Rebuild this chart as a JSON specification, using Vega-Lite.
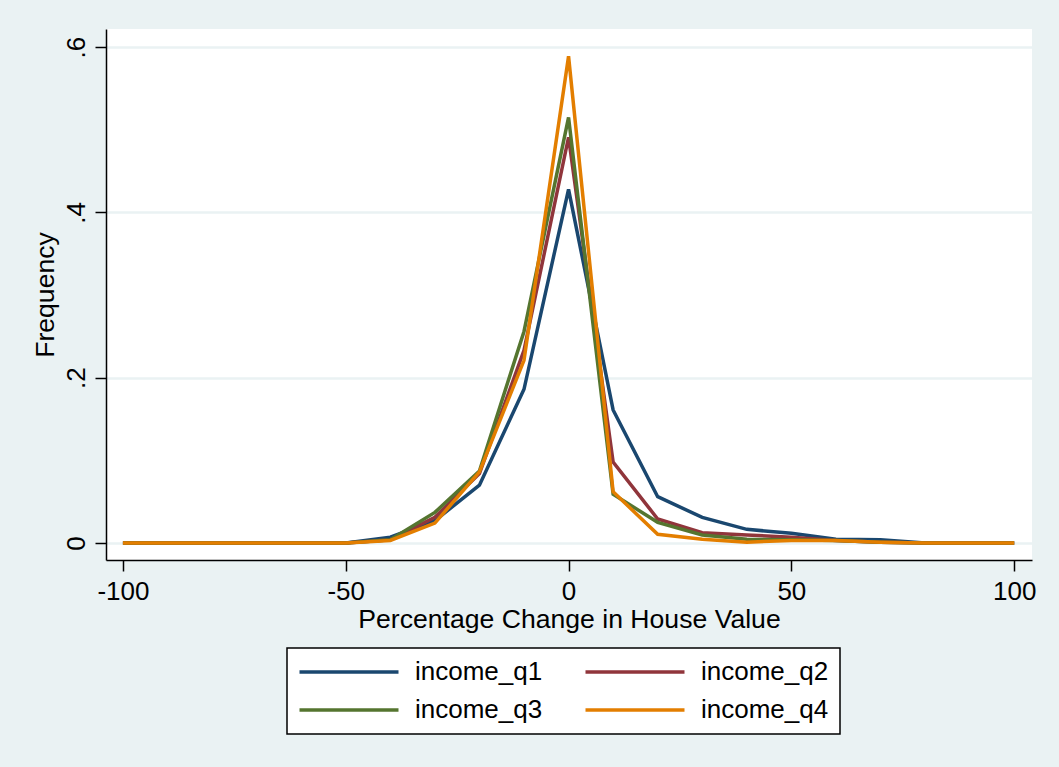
{
  "$schema": "https://vega.github.io/schema/vega-lite/v6.json",
  "width": 926,
  "height": 531,
  "autosize": {"type": "none"},
  "padding": {"left": 106, "top": 29, "right": 27, "bottom": 207},
  "background": "#EAF2F3",
  "config": {
    "view": {"fill": "white", "stroke": null},
    "font": "Liberation Sans"
  },
  "data": {
    "values": [
      {"x": -100, "series": "income_q1", "freq": 0}, {"x": -100, "series": "income_q2", "freq": 0}, {"x": -100, "series": "income_q3", "freq": 0}, {"x": -100, "series": "income_q4", "freq": 0},
      {"x": -90, "series": "income_q1", "freq": 0}, {"x": -90, "series": "income_q2", "freq": 0}, {"x": -90, "series": "income_q3", "freq": 0}, {"x": -90, "series": "income_q4", "freq": 0},
      {"x": -80, "series": "income_q1", "freq": 0}, {"x": -80, "series": "income_q2", "freq": 0}, {"x": -80, "series": "income_q3", "freq": 0}, {"x": -80, "series": "income_q4", "freq": 0},
      {"x": -70, "series": "income_q1", "freq": 0}, {"x": -70, "series": "income_q2", "freq": 0}, {"x": -70, "series": "income_q3", "freq": 0}, {"x": -70, "series": "income_q4", "freq": 0},
      {"x": -60, "series": "income_q1", "freq": 0}, {"x": -60, "series": "income_q2", "freq": 0}, {"x": -60, "series": "income_q3", "freq": 0}, {"x": -60, "series": "income_q4", "freq": 0},
      {"x": -50, "series": "income_q1", "freq": 0}, {"x": -50, "series": "income_q2", "freq": 0}, {"x": -50, "series": "income_q3", "freq": 0}, {"x": -50, "series": "income_q4", "freq": 0},
      {"x": -40, "series": "income_q1", "freq": 0.007}, {"x": -40, "series": "income_q2", "freq": 0.004}, {"x": -40, "series": "income_q3", "freq": 0.004}, {"x": -40, "series": "income_q4", "freq": 0.003},
      {"x": -30, "series": "income_q1", "freq": 0.027}, {"x": -30, "series": "income_q2", "freq": 0.031}, {"x": -30, "series": "income_q3", "freq": 0.037}, {"x": -30, "series": "income_q4", "freq": 0.024},
      {"x": -20, "series": "income_q1", "freq": 0.070}, {"x": -20, "series": "income_q2", "freq": 0.084}, {"x": -20, "series": "income_q3", "freq": 0.087}, {"x": -20, "series": "income_q4", "freq": 0.086},
      {"x": -10, "series": "income_q1", "freq": 0.186}, {"x": -10, "series": "income_q2", "freq": 0.233}, {"x": -10, "series": "income_q3", "freq": 0.256}, {"x": -10, "series": "income_q4", "freq": 0.221},
      {"x": 0, "series": "income_q1", "freq": 0.428}, {"x": 0, "series": "income_q2", "freq": 0.491}, {"x": 0, "series": "income_q3", "freq": 0.515}, {"x": 0, "series": "income_q4", "freq": 0.589},
      {"x": 10, "series": "income_q1", "freq": 0.161}, {"x": 10, "series": "income_q2", "freq": 0.098}, {"x": 10, "series": "income_q3", "freq": 0.059}, {"x": 10, "series": "income_q4", "freq": 0.062},
      {"x": 20, "series": "income_q1", "freq": 0.056}, {"x": 20, "series": "income_q2", "freq": 0.029}, {"x": 20, "series": "income_q3", "freq": 0.025}, {"x": 20, "series": "income_q4", "freq": 0.0105},
      {"x": 30, "series": "income_q1", "freq": 0.031}, {"x": 30, "series": "income_q2", "freq": 0.0125}, {"x": 30, "series": "income_q3", "freq": 0.0097}, {"x": 30, "series": "income_q4", "freq": 0.0045},
      {"x": 40, "series": "income_q1", "freq": 0.0165}, {"x": 40, "series": "income_q2", "freq": 0.0097}, {"x": 40, "series": "income_q3", "freq": 0.0045}, {"x": 40, "series": "income_q4", "freq": 0.001},
      {"x": 50, "series": "income_q1", "freq": 0.0117}, {"x": 50, "series": "income_q2", "freq": 0.007}, {"x": 50, "series": "income_q3", "freq": 0.004}, {"x": 50, "series": "income_q4", "freq": 0.003},
      {"x": 60, "series": "income_q1", "freq": 0.0045}, {"x": 60, "series": "income_q2", "freq": 0.003}, {"x": 60, "series": "income_q3", "freq": 0.003}, {"x": 60, "series": "income_q4", "freq": 0.003},
      {"x": 70, "series": "income_q1", "freq": 0.004}, {"x": 70, "series": "income_q2", "freq": 0.001}, {"x": 70, "series": "income_q3", "freq": 0.001}, {"x": 70, "series": "income_q4", "freq": 0.001},
      {"x": 80, "series": "income_q1", "freq": 0}, {"x": 80, "series": "income_q2", "freq": 0}, {"x": 80, "series": "income_q3", "freq": 0}, {"x": 80, "series": "income_q4", "freq": 0},
      {"x": 90, "series": "income_q1", "freq": 0}, {"x": 90, "series": "income_q2", "freq": 0}, {"x": 90, "series": "income_q3", "freq": 0}, {"x": 90, "series": "income_q4", "freq": 0},
      {"x": 100, "series": "income_q1", "freq": 0}, {"x": 100, "series": "income_q2", "freq": 0}, {"x": 100, "series": "income_q3", "freq": 0}, {"x": 100, "series": "income_q4", "freq": 0}
    ]
  },
  "mark": {"type": "line", "strokeWidth": 3.5, "strokeJoin": "miter"},
  "encoding": {
    "x": {
      "field": "x",
      "type": "quantitative",
      "title": "Percentage Change in House Value",
      "scale": {"domain": [-103.8, 104], "nice": false, "zero": false},
      "axis": {
        "values": [-100, -50, 0, 50, 100],
        "labelExpr": "'' + datum.value",
        "grid": false,
        "domainColor": "black",
        "domainWidth": 1.5,
        "tickColor": "black",
        "tickWidth": 1.5,
        "tickSize": 11,
        "labelPadding": 7,
        "labelFontSize": 26,
        "labelColor": "black",
        "labelFont": "Liberation Sans",
        "titleFont": "Liberation Sans",
        "titleFontSize": 26.6,
        "titleFontWeight": "normal",
        "titleColor": "black",
        "titlePadding": 2,
        "labelFlush": false
      }
    },
    "y": {
      "field": "freq",
      "type": "quantitative",
      "title": "Frequency",
      "scale": {"domain": [-0.0206, 0.622], "nice": false, "zero": false},
      "axis": {
        "values": [0, 0.2, 0.4, 0.6],
        "labelExpr": "datum.value == 0 ? '0' : '.' + format(datum.value * 10, 'd')",
        "grid": true,
        "gridColor": "#EAF2F3",
        "gridWidth": 2.5,
        "domainColor": "black",
        "domainWidth": 1.5,
        "tickColor": "black",
        "tickWidth": 1.5,
        "tickSize": 11,
        "labelAngle": -90,
        "labelAlign": "center",
        "labelBaseline": "alphabetic",
        "labelPadding": 11,
        "labelFontSize": 26,
        "labelColor": "black",
        "labelFont": "Liberation Sans",
        "titleFont": "Liberation Sans",
        "titleFontSize": 26.6,
        "titleFontWeight": "normal",
        "titleColor": "black",
        "titlePadding": 4,
        "labelFlush": false
      }
    },
    "color": {
      "field": "series",
      "type": "nominal",
      "scale": {
        "domain": ["income_q1", "income_q2", "income_q3", "income_q4"],
        "range": ["#1A476F", "#90353B", "#55752F", "#E37E00"]
      },
      "legend": {
        "title": null,
        "orient": "none",
        "legendX": 181,
        "legendY": 619,
        "direction": "horizontal",
        "columns": 2,
        "symbolType": "M-5,0H5",
        "symbolSize": 392,
        "symbolStrokeWidth": 3.4,
        "symbolOffset": 38,
        "labelFontSize": 26,
        "labelFont": "Liberation Sans",
        "labelColor": "black",
        "labelOffset": 53,
        "columnPadding": 35,
        "rowPadding": 12,
        "padding": 11,
        "fillColor": "white",
        "strokeColor": "black",
        "cornerRadius": 0,
        "encode": {"legend": {"update": {"strokeWidth": {"value": 1.5}}}}
      }
    }
  }
}
